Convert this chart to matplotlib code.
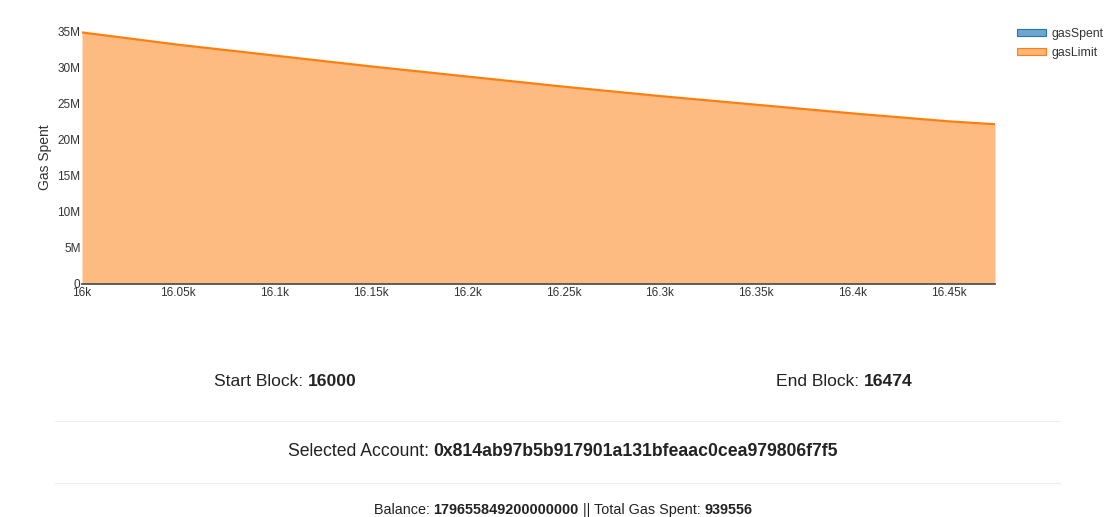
import matplotlib.pyplot as plt
from matplotlib.patches import Patch
from matplotlib.ticker import FuncFormatter

plt.rcParams['font.family'] = ['Liberation Sans', 'DejaVu Sans']

# block numbers and gas values
blocks = [16000, 16050, 16100, 16150, 16200, 16250, 16300, 16350, 16400, 16450, 16474]
gas_limit = [34.8e6, 33.1e6, 31.6e6, 30.1e6, 28.7e6, 27.3e6, 26.0e6, 24.8e6, 23.6e6, 22.5e6, 22.1e6]
gas_spent = [0, 0, 0, 0, 0, 0, 0, 0, 0, 0, 0]

x_ticks = [16000, 16050, 16100, 16150, 16200, 16250, 16300, 16350, 16400, 16450]
y_ticks = [0, 5e6, 10e6, 15e6, 20e6, 25e6, 30e6, 35e6]

start_block = '16000'
end_block = '16474'
account = '0x814ab97b5b917901a131bfeaac0cea979806f7f5'
balance = '179655849200000000'
total_gas = '939556'

W, H = 1112, 517
fig = plt.figure(figsize=(W / 100, H / 100), dpi=100)
ax = fig.add_axes([82 / W, 1 - 284 / H, 913 / W, 253 / H])

blue = '#1f77b4'
orange = '#ff7f0e'

ax.fill_between(blocks, gas_limit, color='#febb81', lw=0)
ax.plot(blocks, gas_limit, color=orange, lw=1.6)
ax.fill_between(blocks, gas_spent, color='#8fbbd9', lw=0)
ax.plot(blocks, gas_spent, color=blue, lw=1)

ax.set_xlim(blocks[0], blocks[-1])
ax.set_ylim(0, 35.0e6)
ax.set_xticks(x_ticks)
ax.set_yticks(y_ticks)
ax.xaxis.set_major_formatter(FuncFormatter(lambda v, p: f'{v / 1000:g}k'))
ax.yaxis.set_major_formatter(FuncFormatter(lambda v, p: '0' if v == 0 else f'{v / 1e6:g}M'))
ax.tick_params(axis='both', length=0, labelsize=8.5, colors='#333333')
ax.tick_params(axis='x', pad=2)
ax.tick_params(axis='y', pad=1)
for s in ['top', 'right', 'left']:
    ax.spines[s].set_visible(False)
ax.spines['bottom'].set_color('#555555')
ax.spines['bottom'].set_linewidth(1.3)
ax.set_ylabel('Gas Spent', fontsize=10, color='#333333', labelpad=4)
ax.patch.set_alpha(0)

handles = [Patch(facecolor='#6ea5cf', edgecolor=blue, lw=0.8, label='gasSpent'),
           Patch(facecolor='#fdb479', edgecolor=orange, lw=0.8, label='gasLimit')]
fig.legend(handles=handles, loc='upper left', bbox_to_anchor=(1017 / W, 1 - 28 / H),
           frameon=False, fontsize=8.8, handlelength=2.4, handleheight=0.45,
           handletextpad=0.45, labelspacing=0.55, borderpad=0, borderaxespad=0,
           labelcolor='#333333')

# faint separators
for yy in [421, 483]:
    fig.add_artist(plt.Line2D([55 / W, 1060 / W], [1 - yy / H] * 2, color='#eeeeee', lw=0.8))

renderer = fig.canvas.get_renderer()


def parts_line(x, y, parts, size, align='left'):
    texts = []
    for s, bold in parts:
        texts.append(fig.text(x, y, s, fontsize=size, color='#222222',
                              weight='bold' if bold else 'normal', va='center'))
    widths = [t.get_window_extent(renderer).width / W for t in texts]
    x0 = x - sum(widths) / 2 if align == 'center' else x
    for t, w in zip(texts, widths):
        t.set_x(x0)
        x0 += w


parts_line(214 / W, 1 - 382 / H, [('Start Block: ', False), (start_block, True)], 12.6)
parts_line(776 / W, 1 - 382 / H, [('End Block: ', False), (end_block, True)], 12.6)
parts_line(563 / W, 1 - 451 / H, [('Selected Account: ', False), (account, True)], 12.7,
           align='center')
parts_line(563 / W, 1 - 510 / H, [('Balance: ', False), (balance, True),
                                  (' || Total Gas Spent: ', False), (total_gas, True)], 10.4,
           align='center')

fig.savefig('out.png', dpi=100)
